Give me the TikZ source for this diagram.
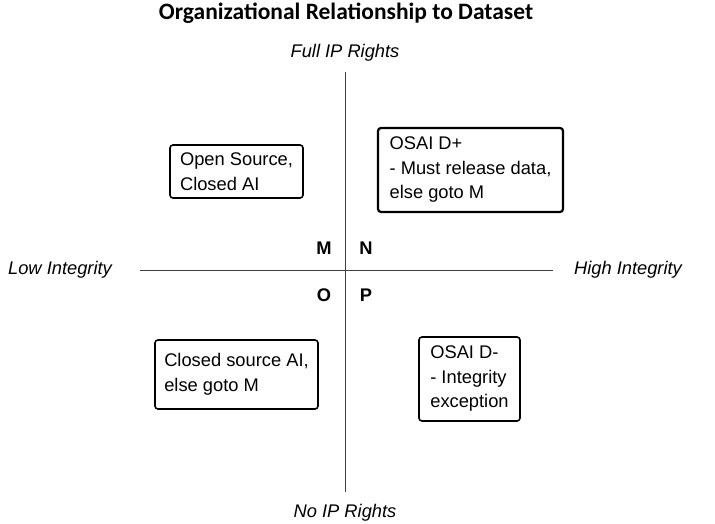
\documentclass[tikz,border=0pt]{standalone}
\usepackage{fontspec}
\setmainfont{Liberation Sans}
\newfontfamily\titlefont{Carlito}
\begin{document}
\begin{tikzpicture}[x=1pt, y=-1pt]
    \useasboundingbox (0,0) rectangle (715,524);
    \begin{scope}
        \tikzstyle{every node}=[font=\fontsize{18.3}{24}\selectfont, text=black]
        \node[font=\titlefont\bfseries\fontsize{23.5}{26}\selectfont] (title) at (346,13) {Organizational Relationship to Dataset};
        \node[font=\itshape\fontsize{18.3}{24}\selectfont] (full) at (345,53) {Full IP Rights};
        \node[font=\itshape\fontsize{18.3}{24}\selectfont] (none) at (345,513) {No IP Rights};
        \node[font=\itshape\fontsize{18.3}{24}\selectfont] (low) at (60,270) {Low Integrity};
        \node[font=\itshape\fontsize{18.3}{24}\selectfont] (high) at (628,270) {High Integrity};
        \node[font=\bfseries\fontsize{18.3}{24}\selectfont] (M) at (324,248) {M};
        \node[font=\bfseries\fontsize{18.3}{24}\selectfont] (N) at (366,248) {N};
        \node[font=\bfseries\fontsize{18.3}{24}\selectfont] (O) at (324,295) {O};
        \node[font=\bfseries\fontsize{18.3}{24}\selectfont] (P) at (366,295) {P};
    \end{scope}
    \begin{scope}
        \tikzstyle{every node}=[draw=black, line width=1.6pt, rounded corners=3pt, rectangle, align=left, inner xsep=0pt, inner ysep=0pt, font=\fontsize{18.3}{24.5}\selectfont]
        \node[minimum width=133pt, minimum height=53pt] (osca) at (236.5,171.5) {Open Source,\\Closed AI};
        \node[minimum width=185pt, minimum height=84pt, line width=2.2pt] (dplus) at (470.5,170) {OSAI D+\\- Must release data,\\else goto M};
        \node[minimum width=163pt, minimum height=69pt] (csai) at (236.5,374.5) {Closed source AI,\\else goto M};
        \node[minimum width=101pt, minimum height=84pt] (dminus) at (469.5,379) {OSAI D-\\- Integrity\\exception};
    \end{scope}
    \begin{scope}
        \coordinate (top) at (345,72);
        \coordinate (bottom) at (345,492);
        \coordinate (left) at (140,270);
        \coordinate (right) at (553,270);
        \draw[black!75, line width=1pt] (top) -- (bottom);
        \draw[black!75, line width=1pt] (left) -- (right);
    \end{scope}
\end{tikzpicture}
\end{document}
